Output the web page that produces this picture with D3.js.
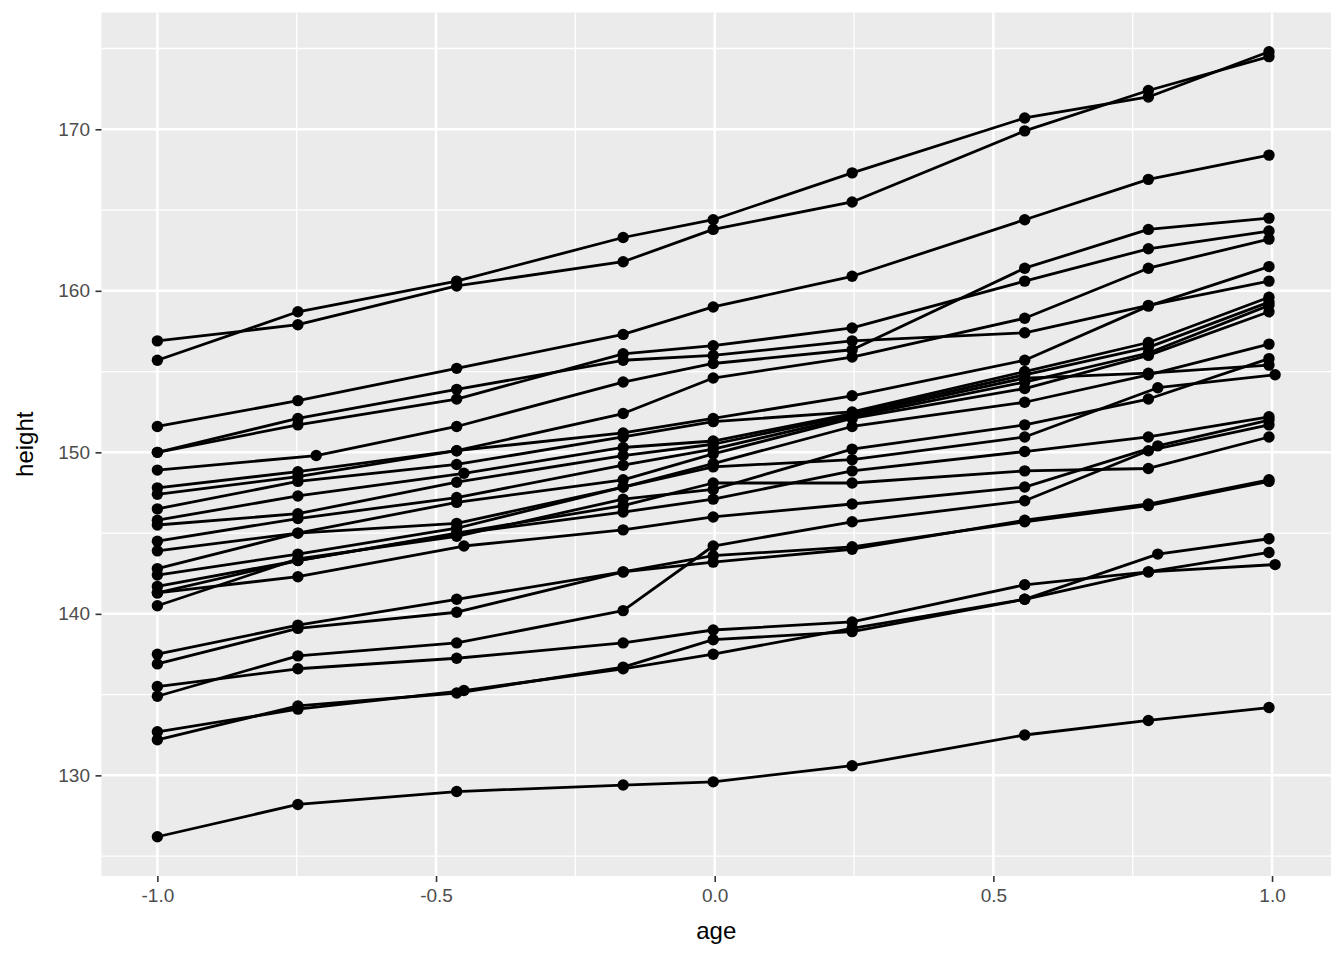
<!DOCTYPE html>
<html><head><meta charset="utf-8">
<script src="https://cdn.jsdelivr.net/npm/d3@7"></script>
<style>body{margin:0;background:#fff}</style></head>
<body>
<svg id="chart" width="1344" height="960"></svg>
<script>
// Standard measurement ages (9 occasions)
const ageStd = [-1, -0.7479, -0.463, -0.1643, -0.0027, 0.2466, 0.5562, 0.7781, 0.9945];
// heights per boy (one row per boy, 9 occasions)
const heights = [
  [155.7,158.7,160.6,163.3,164.4,167.3,170.7,172.0,174.8],
  [156.9,157.9,160.3,161.8,163.8,165.5,169.9,172.4,174.5],
  [151.6,153.2,155.2,157.3,159.0,160.9,164.4,166.9,168.4],
  [150.0,152.1,153.9,155.7,156.0,156.9,157.4,159.1,160.6],
  [150.0,151.7,153.3,156.1,156.6,157.7,160.6,162.6,163.7],
  [148.9,149.8,151.6,154.35,155.5,156.35,161.4,163.8,164.5],
  [147.8,148.8,150.1,152.4,154.6,155.9,158.3,161.4,163.2],
  [147.4,148.5,150.1,151.2,152.1,153.5,155.7,159.05,161.5],
  [146.5,148.2,149.25,150.95,151.9,152.5,155.0,156.8,159.6],
  [145.8,147.3,148.7,150.3,150.7,152.4,154.8,156.5,159.3],
  [145.5,146.2,148.15,149.8,150.5,152.3,154.6,154.9,155.4],
  [144.5,145.9,147.2,149.2,150.2,152.2,154.35,156.15,159.1],
  [143.9,145.0,146.9,148.3,149.9,152.1,153.95,156.0,158.7],
  [142.8,145.0,145.6,147.85,149.3,151.6,153.1,154.8,156.7],
  [142.4,143.7,145.3,147.85,149.1,149.55,150.95,154.0,154.8],
  [141.7,143.3,145.0,146.7,148.1,148.1,148.85,149.0,150.95],
  [141.3,143.3,144.95,146.3,147.1,148.85,150.05,150.95,152.2],
  [141.3,142.3,144.2,145.2,146.0,146.8,147.85,150.4,152.0],
  [140.5,143.4,144.8,147.1,147.7,150.2,151.7,153.3,155.8],
  [137.5,139.3,140.9,142.6,143.6,144.15,145.7,146.7,148.2],
  [136.9,139.1,140.1,142.6,143.2,144.0,145.8,146.8,148.3],
  [134.9,137.4,138.2,140.2,144.2,145.7,147.0,150.1,151.7],
  [135.5,136.6,137.25,138.2,139.0,139.5,141.8,142.6,143.8],
  [132.7,134.1,135.25,136.6,137.5,139.1,140.9,143.7,144.65],
  [132.2,134.3,135.1,136.7,138.4,138.9,140.9,142.6,143.05],
  [126.2,128.2,129.0,129.4,129.6,130.6,132.5,133.4,134.2]
];
// [boy row, occasion index, age] where the age differs from the standard one
const ageOverrides = [
  [5,1,-0.715],
  [9,2,-0.45],[17,2,-0.45],[23,2,-0.45],
  [14,7,0.795],[17,7,0.795],[23,7,0.795],
  [14,8,1.0055],[24,8,1.0055]
];
const xTickVals = [-1, -0.5, 0, 0.5, 1];
const xTickLabels = ["-1.0","-0.5","0.0","0.5","1.0"];
const yTickVals = [130, 140, 150, 160, 170];

const series = heights.map((hs, s) => hs.map((h, i) => ({age: ageStd[i], height: h, s})));
ageOverrides.forEach(([s,i,a]) => { series[s][i].age = a; });
const all = series.flat();

const FONT = "'Liberation Sans', Arial, Helvetica, sans-serif";
const L = 101.5, R = 1331, T = 12.5, B = 876;
const ax = d3.extent(all, d => d.age), ay = d3.extent(all, d => d.height);
const px = (ax[1]-ax[0])*0.05, py = (ay[1]-ay[0])*0.05;
const x = d3.scaleLinear().domain([ax[0]-px, ax[1]+px]).range([L, R]);
const y = d3.scaleLinear().domain([ay[0]-py, ay[1]+py]).range([B, T]);

const svg = d3.select("#chart");
svg.append("rect").attr("x",L).attr("y",T).attr("width",R-L).attr("height",B-T).attr("fill","#ebebeb");

const g = svg.append("g");
const xMinor = xTickVals.slice(0,-1).map((v,i)=>(v+xTickVals[i+1])/2);
const yMinor = [125].concat(yTickVals.map(v=>v+5)).filter(v => y(v) > T && y(v) < B);
g.selectAll(".xmin").data(xMinor).join("line").attr("x1",d=>x(d)).attr("x2",d=>x(d)).attr("y1",T).attr("y2",B)
  .attr("stroke","#fff").attr("stroke-width",1.3);
g.selectAll(".ymin").data(yMinor).join("line").attr("y1",d=>y(d)).attr("y2",d=>y(d)).attr("x1",L).attr("x2",R)
  .attr("stroke","#fff").attr("stroke-width",1.3);
g.selectAll(".xmaj").data(xTickVals).join("line").attr("x1",d=>x(d)).attr("x2",d=>x(d)).attr("y1",T).attr("y2",B)
  .attr("stroke","#fff").attr("stroke-width",2.5);
g.selectAll(".ymaj").data(yTickVals).join("line").attr("y1",d=>y(d)).attr("y2",d=>y(d)).attr("x1",L).attr("x2",R)
  .attr("stroke","#fff").attr("stroke-width",2.5);

const xAxis = d3.axisBottom(x).tickValues(xTickVals).tickFormat((d,i)=>xTickLabels[i]).tickSize(6).tickPadding(7);
const yAxis = d3.axisLeft(y).tickValues(yTickVals).tickFormat(d3.format("d")).tickSize(6).tickPadding(5.5);
const gx = svg.append("g").attr("transform",`translate(0,${B})`).call(xAxis);
const gy = svg.append("g").attr("transform",`translate(${L},0)`).call(yAxis);
[gx, gy].forEach(a => {
  a.select(".domain").remove();
  a.selectAll(".tick line").attr("stroke","#333333").attr("stroke-width",1.6);
  a.selectAll(".tick text").attr("fill","#4d4d4d").style("font-family",FONT).style("font-size","19px");
});

const line = d3.line().x(d=>x(d.age)).y(d=>y(d.height));
svg.append("g").selectAll("path").data(series).join("path")
  .attr("d", line).attr("fill","none").attr("stroke","#000").attr("stroke-width",2.8).attr("stroke-linejoin","round");
svg.append("g").selectAll("circle").data(all).join("circle")
  .attr("cx",d=>x(d.age)).attr("cy",d=>y(d.height)).attr("r",5.7).attr("fill","#000");

svg.append("text").attr("x",(L+R)/2).attr("y",939).attr("text-anchor","middle")
  .style("font-family",FONT).style("font-size","24px").attr("fill","#000").text("age");
svg.append("text").attr("transform",`translate(33,${(T+B)/2}) rotate(-90)`).attr("text-anchor","middle")
  .style("font-family",FONT).style("font-size","24px").attr("fill","#000").text("height");
</script>
</body></html>
